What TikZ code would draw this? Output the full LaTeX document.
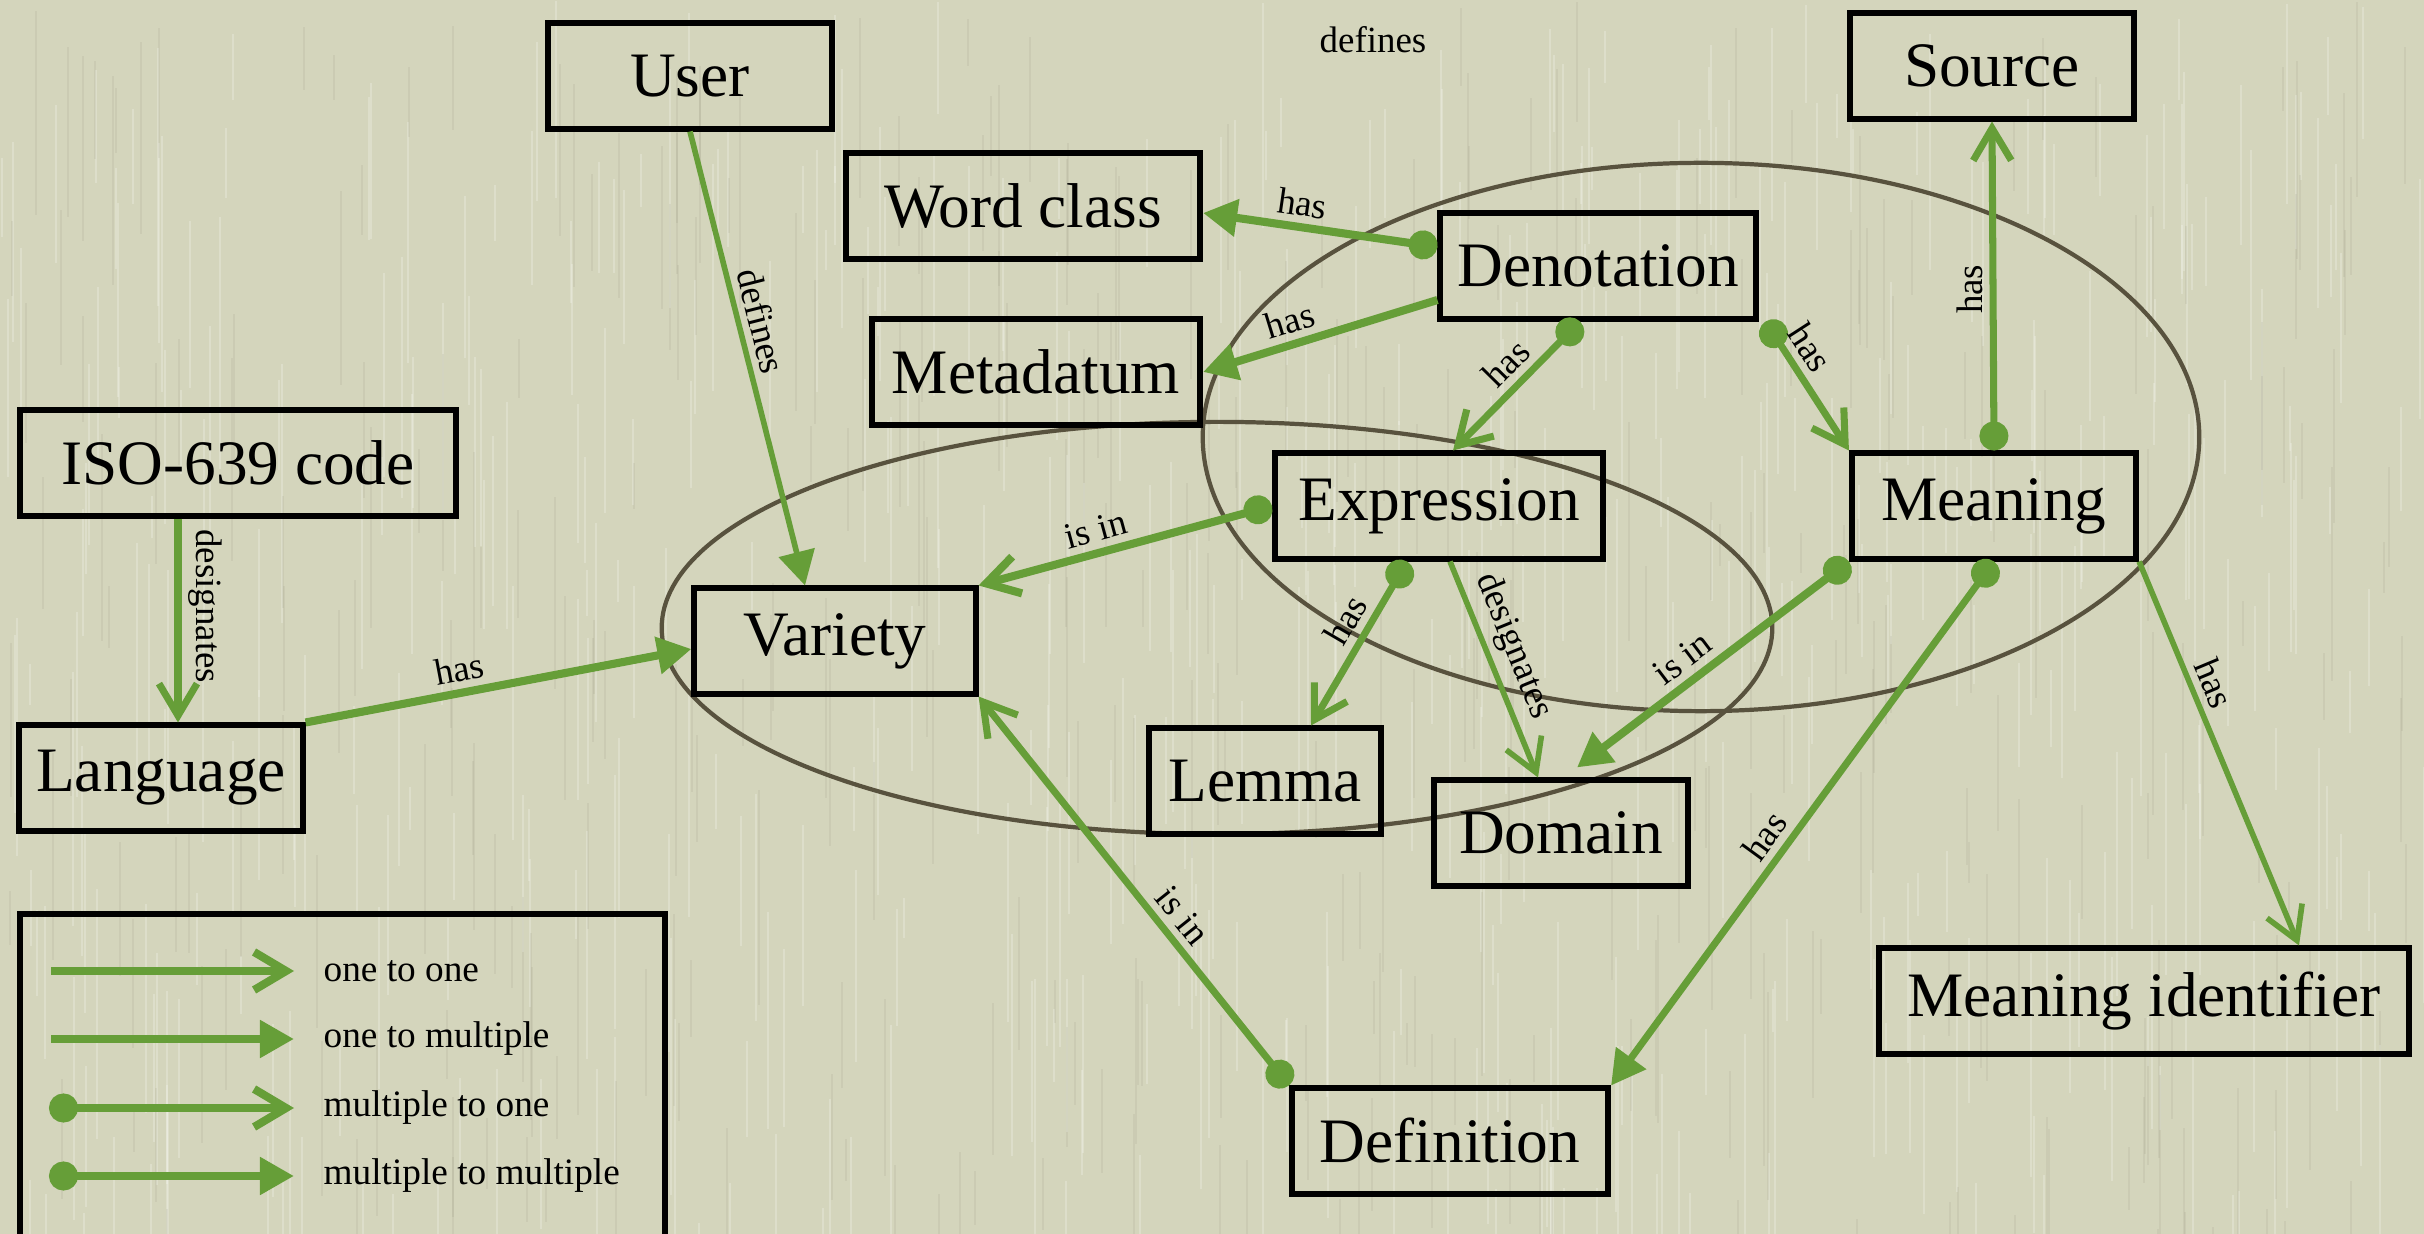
\documentclass[tikz,border=0pt]{standalone}
\usepackage{fontspec}
\setmainfont{Liberation Serif}
\usetikzlibrary{arrows.meta,calc}

\definecolor{paper}{RGB}{212,213,188}
\definecolor{leaf}{RGB}{102,158,56}
\definecolor{rim}{RGB}{88,82,62}

\begin{document}
\begin{tikzpicture}[x=0.01cm,y=-0.01cm,
  entity/.style={draw=black, line width=1.7pt, minimum height=1.05cm,
    inner sep=0pt, font=\fontsize{18}{20}\selectfont},
  lbl/.style={font=\fontsize{10.5}{12}\selectfont, inner sep=2pt},
  keytext/.style={font=\fontsize{10.6}{12}\selectfont, inner sep=0pt, anchor=west},
  link/.style={draw=leaf, line width=2pt},
  heavy/.style={line width=2.3pt},
  fine/.style={line width=1.6pt},
  o2o/.style={link, -{Straight Barb[length=3.2mm,width=3.8mm]}},
  o2m/.style={link, -{Triangle[length=3.4mm,width=3.6mm]}},
  m2o/.style={link, {Circle[length=2.9mm,width=2.9mm]}-{Straight Barb[length=3.2mm,width=3.8mm]}},
  m2m/.style={link, {Circle[length=2.9mm,width=2.9mm]}-{Triangle[length=3.4mm,width=3.6mm]}},
  ring/.style={draw=rim, line width=1.2pt}]

\useasboundingbox (0,0) rectangle (2424,1234);
\clip (0,0) rectangle (2424,1234);

% textured paper
\fill[paper] (0,0) rectangle (2424,1234);
\pgfmathsetseed{42}
\foreach \k in {1,...,500} {
  \pgfmathsetmacro\xx{random(0,2424)}
  \pgfmathsetmacro\yy{random(0,1234)}
  \pgfmathsetmacro\ll{random(40,260)}
  \draw[white, opacity=0.22, line width=0.7pt] (\xx,\yy) -- ++(0,\ll);
}
\foreach \k in {1,...,350} {
  \pgfmathsetmacro\xx{random(0,2424)}
  \pgfmathsetmacro\yy{random(0,1234)}
  \pgfmathsetmacro\ll{random(40,220)}
  \draw[rim, opacity=0.07, line width=0.6pt] (\xx,\yy) -- ++(0,\ll);
}

% grouping ellipses
\draw[ring] (1701,437) ellipse [x radius=4.98cm, y radius=2.74cm];
\draw[ring] (1217,628) ellipse [x radius=5.55cm, y radius=2.06cm];

% entities
\node[entity, minimum width=2.83cm] (user) at (690,76) {User};
\node[entity, minimum width=2.83cm] (source) at (1992,66) {Source};
\node[entity, minimum width=3.54cm] (wordclass) at (1023,206) {Word class};
\node[entity, minimum width=3.15cm] (denotation) at (1598,266) {Denotation};
\node[entity, minimum width=3.28cm] (metadatum) at (1036,372) {Metadatum};
\node[entity, minimum width=4.36cm] (iso) at (238,463) {ISO-639 code};
\node[entity, minimum width=3.28cm] (expression) at (1439,506) {Expression};
\node[entity, minimum width=2.84cm] (meaning) at (1994,506) {Meaning};
\node[entity, minimum width=2.81cm] (variety) at (835,641) {Variety};
\node[entity, minimum width=2.83cm] (language) at (161,778) {Language};
\node[entity, minimum width=2.32cm] (lemma) at (1265,781) {Lemma};
\node[entity, minimum width=2.53cm] (domain) at (1561,833) {Domain};
\node[entity, minimum width=5.29cm] (meaningid) at (2144,1001) {Meaning identifier};
\node[entity, minimum width=3.16cm] (definition) at (1450,1141) {Definition};

\node[lbl] (loose) at (1373,40) {defines};

% relations
\draw[o2m, fine] (user.south) -- ($(variety.north)+(-30,0)$)
  node[lbl, sloped, above, pos=.43] {defines};
\draw[o2o] ($(iso.south)+(-60,0)$) -- ($(language.north)+(17,0)$)
  node[lbl, sloped, above, pos=.43] {designates};
\draw[o2m, heavy] (language.north east) -- ($(variety.west)+(0,8)$)
  node[lbl, sloped, above, pos=.41] {has};
\draw[m2o, heavy] (expression.west) -- (variety.north east)
  node[lbl, sloped, above, pos=.58] {is in};
\draw[m2m, heavy] ($(denotation.west)+(0,-19)$) -- ($(wordclass.east)+(0,7)$)
  node[lbl, sloped, above, pos=.59] {has};
\draw[o2m, heavy] ($(denotation.west)+(0,34)$) -- (metadatum.east)
  node[lbl, sloped, above, pos=.6] {has};
\draw[m2o] ($(denotation.south)+(-18,0)$) -- ($(expression.north)+(14,0)$)
  node[lbl, sloped, above, pos=.45] {has};
\draw[m2o] ($(denotation.south east)+(7,0)$) -- (meaning.north west)
  node[lbl, sloped, above, pos=.3] {has};
\draw[m2o] (meaning.north) -- (source.south)
  node[lbl, rotate=90, anchor=south, pos=.49] {has};
\draw[m2m, heavy] (meaning.south west) -- ($(domain.north)+(16,-10)$)
  node[lbl, sloped, above, pos=.56] {is in};
\draw[m2m] (meaning.south) -- (definition.north east)
  node[lbl, sloped, above, pos=.55] {has};
\draw[o2o, fine] (meaning.south east) -- ($(meaningid.north)+(155,0)$)
  node[lbl, sloped, above, pos=.34] {has};
\draw[m2o] ($(expression.south)+(-32,0)$) -- ($(lemma.north)+(46,0)$)
  node[lbl, sloped, above, pos=.43] {has};
\draw[o2o, fine] ($(expression.south)+(11,0)$) -- ($(domain.north)+(-23,0)$)
  node[lbl, sloped, above, pos=.44] {designates};
\draw[m2o] (definition.north west) -- (variety.south east)
  node[lbl, sloped, above, pos=.4] {is in};

% key
\draw[black, line width=1.7pt] (20,914) rectangle (665,1300);
\coordinate (k1a) at (51,971);  \coordinate (k1b) at (294,971);
\coordinate (k2a) at (51,1039); \coordinate (k2b) at (294,1039);
\coordinate (k3a) at (49,1108); \coordinate (k3b) at (294,1108);
\coordinate (k4a) at (49,1176); \coordinate (k4b) at (294,1176);
\draw[o2o, heavy] (k1a) -- (k1b);
\draw[o2m, heavy] (k2a) -- (k2b);
\draw[m2o, heavy] (k3a) -- (k3b);
\draw[m2m, heavy] (k4a) -- (k4b);
\node[keytext] (k1t) at (323,971) {one to one};
\node[keytext] (k2t) at (323,1039) {one to multiple};
\node[keytext] (k3t) at (323,1108) {multiple to one};
\node[keytext] (k4t) at (323,1176) {multiple to multiple};
\end{tikzpicture}
\end{document}
